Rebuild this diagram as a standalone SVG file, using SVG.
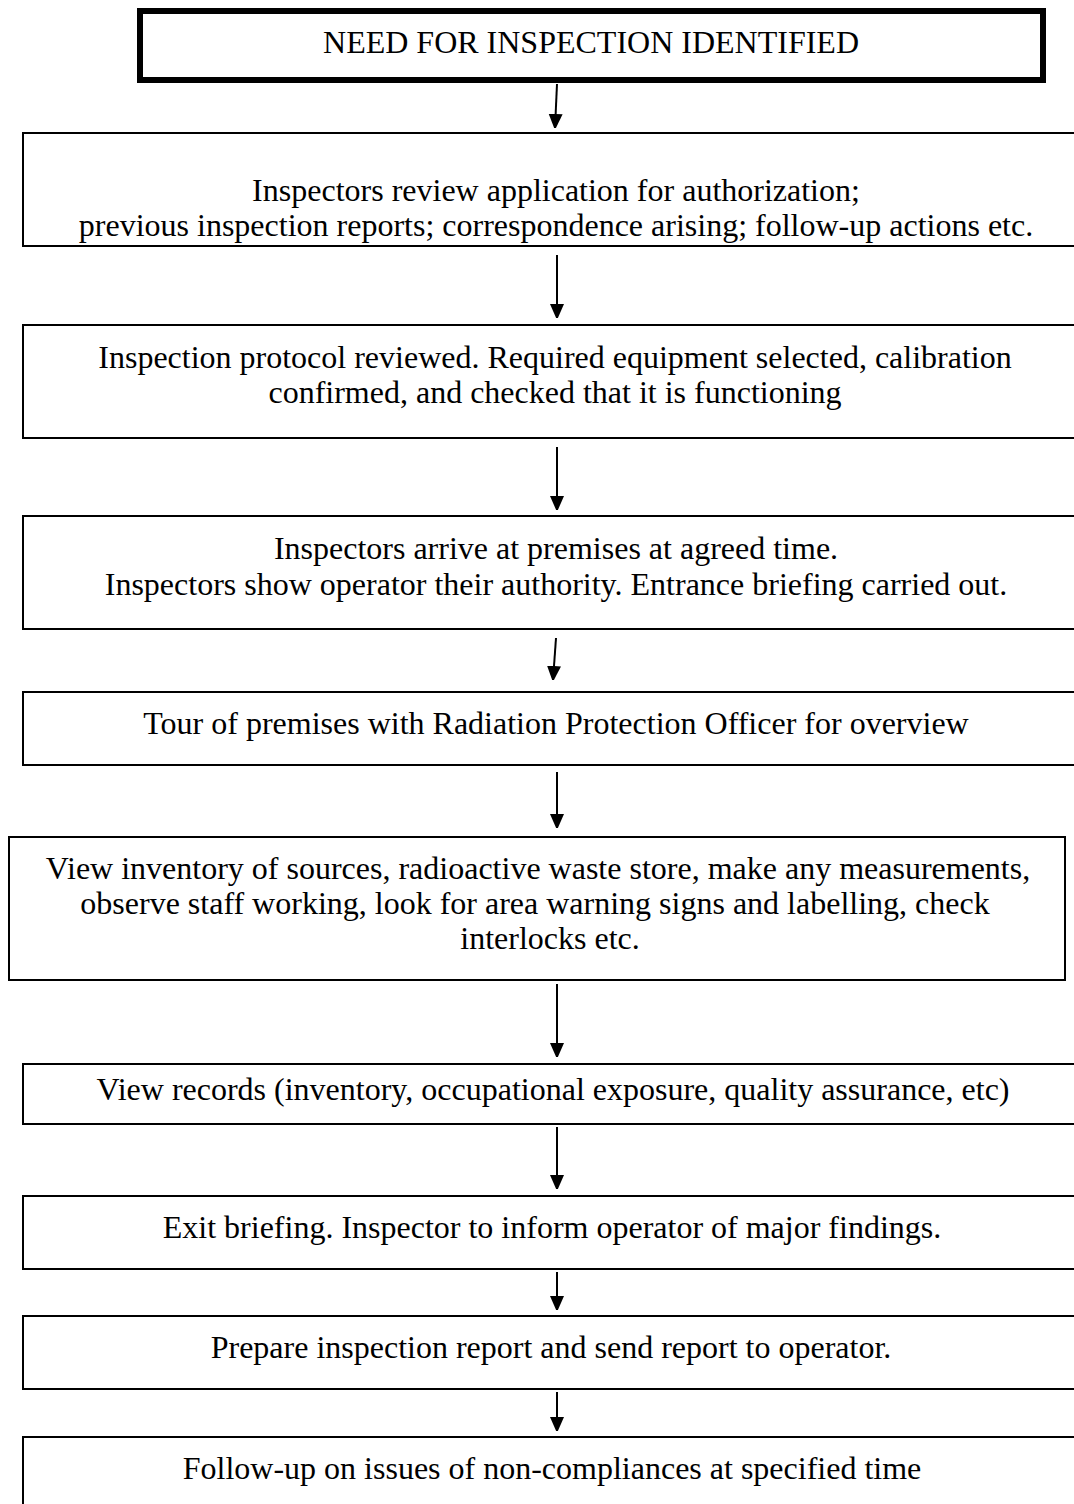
<svg xmlns="http://www.w3.org/2000/svg" width="1074" height="1504" viewBox="0 0 1074 1504">
<style>
.box{fill:#fff;stroke:#000;stroke-width:2}
.thick{fill:#fff;stroke:#000;stroke-width:6}
text{font-family:"Liberation Serif","Times New Roman",serif;font-size:32px;fill:#000;text-anchor:middle}
.conn line{stroke:#000;stroke-width:2}
</style>
<defs>
<marker id="ah" viewBox="0 0 14 16" refX="14" refY="7" markerWidth="14" markerHeight="16" markerUnits="userSpaceOnUse" orient="auto">
<path d="M0,0 L16,7 L0,14 Z" fill="#000"/>
</marker>
</defs>
<rect width="1074" height="1504" fill="#fff"/>
<g id="n1"><rect class="thick" x="140" y="11" width="903" height="69"/><text x="591" y="53">NEED FOR INSPECTION IDENTIFIED</text></g>
<g id="n2"><rect class="box" x="23" y="133" width="1070" height="113"/><text x="556" y="201">Inspectors review application for authorization;</text><text x="556" y="236">previous inspection reports; correspondence arising; follow-up actions etc.</text></g>
<g id="n3"><rect class="box" x="23" y="325" width="1070" height="113"/><text x="555" y="368">Inspection protocol reviewed. Required equipment selected, calibration</text><text x="555" y="403">confirmed, and checked that it is functioning</text></g>
<g id="n4"><rect class="box" x="23" y="516" width="1070" height="113"/><text x="556" y="559">Inspectors arrive at premises at agreed time.</text><text x="556" y="595">Inspectors show operator their authority. Entrance briefing carried out.</text></g>
<g id="n5"><rect class="box" x="23" y="692" width="1070" height="73"/><text x="556" y="734">Tour of premises with Radiation Protection Officer for overview</text></g>
<g id="n6"><rect class="box" x="9" y="837" width="1056" height="143"/><text x="538" y="879">View inventory of sources, radioactive waste store, make any measurements,</text><text x="535" y="914">observe staff working, look for area warning signs and labelling, check</text><text x="550" y="949">interlocks etc.</text></g>
<g id="n7"><rect class="box" x="23" y="1064" width="1070" height="60"/><text x="553" y="1100">View records (inventory, occupational exposure, quality assurance, etc)</text></g>
<g id="n8"><rect class="box" x="23" y="1196" width="1070" height="73"/><text x="552" y="1238">Exit briefing. Inspector to inform operator of major findings.</text></g>
<g id="n9"><rect class="box" x="23" y="1316" width="1070" height="73"/><text x="551" y="1358">Prepare inspection report and send report to operator.</text></g>
<g id="n10"><rect class="box" x="23" y="1437" width="1070" height="80"/><text x="552" y="1479">Follow-up on issues of non-compliances at specified time</text></g>
<g id="connectors" class="conn">
<line x1="557" y1="84" x2="555" y2="128" marker-end="url(#ah)"/>
<line x1="557" y1="255" x2="557" y2="318" marker-end="url(#ah)"/>
<line x1="557" y1="447" x2="557" y2="510" marker-end="url(#ah)"/>
<line x1="556" y1="638" x2="553" y2="680" marker-end="url(#ah)"/>
<line x1="557" y1="772" x2="557" y2="828" marker-end="url(#ah)"/>
<line x1="557" y1="984" x2="557" y2="1057" marker-end="url(#ah)"/>
<line x1="557" y1="1127" x2="557" y2="1189" marker-end="url(#ah)"/>
<line x1="557" y1="1272" x2="557" y2="1310" marker-end="url(#ah)"/>
<line x1="557" y1="1392" x2="557" y2="1431" marker-end="url(#ah)"/>
</g>
</svg>
